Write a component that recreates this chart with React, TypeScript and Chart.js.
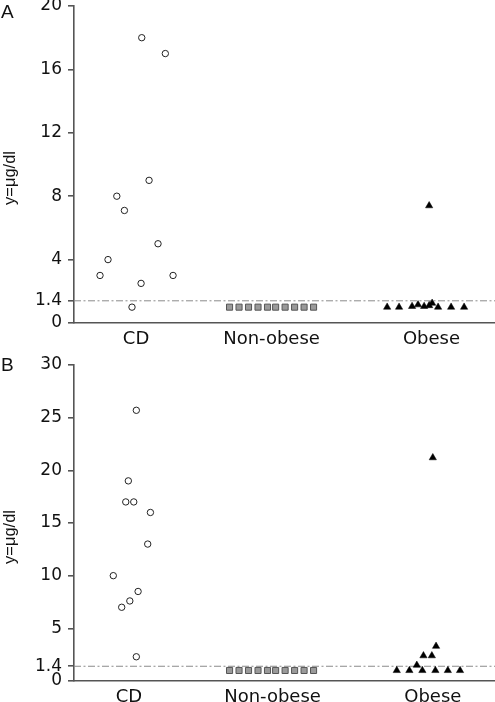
import React, { useEffect, useRef } from 'react';
import { Chart, registerables } from 'chart.js';

Chart.register(...registerables);

// ---------- shared ----------
const categories = ['CD', 'Non-obese', 'Obese'];
const categoryCenters = [1, 2, 3.17];
const xMin = 0.542;
const xMax = 3.649;
const cutoff = 1.4;
const yTitle = 'y=μg/dl';

// ---------- panel A ----------
const aYTicks = [0, 1.4, 4, 8, 12, 16, 20];
const aYMax = 20;
const aLabelPos = [1, 2, 3.18];
const aCdValues = [3.0, 4.0, 8.0, 7.1, 1.0, 18.0, 2.5, 9.0, 5.0, 17.0, 3.0];
const aCdJitter = [-0.266, -0.207, -0.142, -0.086, -0.03, 0.042, 0.037, 0.096, 0.162, 0.216, 0.273];
const aNonObeseValues = [1.0, 1.0, 1.0, 1.0, 1.0, 1.0, 1.0, 1.0, 1.0, 1.0];
const aNonObeseJitter = [-0.31, -0.24, -0.17, -0.1, -0.03, 0.03, 0.1, 0.17, 0.24, 0.31];
const aObeseValues = [1.0, 1.0, 1.05, 1.15, 1.05, 7.4, 1.1, 1.25, 1.0, 1.0, 1.0];
const aObeseJitter = [-0.317, -0.229, -0.133, -0.089, -0.044, -0.007, -0.007, 0.015, 0.059, 0.155, 0.251];

// ---------- panel B ----------
const bYTicks = [0, 1.4, 5, 10, 15, 20, 25, 30];
const bYMax = 30;
const bLabelPos = [0.948, 2.007, 3.19];
const bCdValues = [25.7, 19.0, 17.0, 17.0, 16.0, 13.0, 10.0, 8.5, 7.6, 7.0, 2.3];
const bCdJitter = [0.002, -0.057, -0.076, -0.017, 0.106, 0.086, -0.168, 0.015, -0.046, -0.106, 0.002];
const bNonObeseValues = [1.0, 1.0, 1.0, 1.0, 1.0, 1.0, 1.0, 1.0, 1.0, 1.0];
const bNonObeseJitter = [-0.31, -0.24, -0.17, -0.1, -0.03, 0.03, 0.1, 0.17, 0.24, 0.31];
const bObeseValues = [1.0, 1.0, 1.0, 1.0, 1.0, 1.0, 1.5, 2.4, 2.4, 3.3, 21.2];
const bObeseJitter = [-0.246, -0.153, -0.057, 0.039, 0.131, 0.221, -0.098, -0.049, 0.013, 0.044, 0.02];

const W = 495;
const H = 351;
const AXIS = '#555555';
const TICK_FONT = { family: '"DejaVu Sans", sans-serif', size: 17 };
const LABEL_FONT = { family: '"DejaVu Sans", sans-serif', size: 18 };

type PanelCfg = {
  letter: string;
  letterTop: number;
  titleY: number;
  padTop: number;
  xHeight: number;
  yTicks: number[];
  yMax: number;
  labelPos: number[];
  cd: number[];
  cdJ: number[];
  non: number[];
  nonJ: number[];
  ob: number[];
  obJ: number[];
};

const panels: PanelCfg[] = [
  {
    letter: 'A', letterTop: 3, titleY: 178, padTop: 6, xHeight: 28,
    yTicks: aYTicks, yMax: aYMax, labelPos: aLabelPos,
    cd: aCdValues, cdJ: aCdJitter, non: aNonObeseValues, nonJ: aNonObeseJitter,
    ob: aObeseValues, obJ: aObeseJitter,
  },
  {
    letter: 'B', letterTop: 5, titleY: 186, padTop: 14, xHeight: 21,
    yTicks: bYTicks, yMax: bYMax, labelPos: bLabelPos,
    cd: bCdValues, cdJ: bCdJitter, non: bNonObeseValues, nonJ: bNonObeseJitter,
    ob: bObeseValues, obJ: bObeseJitter,
  },
];

const pts = (center: number, jit: number[], vals: number[]) =>
  vals.map((v, i) => ({ x: center + jit[i], y: v }));

function buildConfig(p: PanelCfg): any {
  const annot = {
    id: 'annot',
    afterDraw(chart: any) {
      const ctx = chart.ctx;
      ctx.save();
      ctx.fillStyle = '#111';
      ctx.font = '19px "Liberation Sans", Arial, sans-serif';
      ctx.textAlign = 'left';
      ctx.textBaseline = 'top';
      ctx.fillText(p.letter, 1, p.letterTop);
      ctx.translate(10.5, p.titleY);
      ctx.rotate(-Math.PI / 2);
      ctx.textAlign = 'center';
      ctx.textBaseline = 'middle';
      ctx.font = '16.5px "Liberation Sans", Arial, sans-serif';
      ctx.fillText(yTitle, 0, 0);
      ctx.restore();
    },
  };

  return {
    type: 'scatter',
    data: {
      datasets: [
        {
          type: 'line',
          data: [{ x: xMin, y: cutoff }, { x: xMax, y: cutoff }],
          borderColor: '#8a8a8a',
          borderWidth: 1,
          borderDash: [7, 2.5, 2, 2.5],
          pointRadius: 0,
          fill: false,
          order: 5,
        },
        {
          data: pts(categoryCenters[0], p.cdJ, p.cd),
          pointStyle: 'circle',
          pointRadius: 3.2,
          borderWidth: 1,
          borderColor: '#222',
          backgroundColor: '#fff',
          order: 1,
        },
        {
          data: pts(categoryCenters[1], p.nonJ, p.non),
          pointStyle: 'rect',
          pointRadius: 4.3,
          borderWidth: 1,
          borderColor: '#555',
          backgroundColor: '#9a9a9a',
          order: 1,
        },
        {
          data: pts(categoryCenters[2], p.obJ, p.ob),
          pointStyle: 'triangle',
          pointRadius: 4.2,
          borderWidth: 0.5,
          borderColor: '#000',
          backgroundColor: '#000',
          order: 1,
        },
      ],
    },
    options: {
      responsive: false,
      animation: false,
      devicePixelRatio: 1,
      layout: { autoPadding: false, padding: { top: p.padTop, left: 0, right: 0, bottom: 0 } },
      plugins: { legend: { display: false }, tooltip: { enabled: false } },
      scales: {
        x: {
          type: 'linear',
          min: xMin,
          max: xMax,
          bounds: 'data',
          grid: { display: false, drawTicks: false },
          border: { display: true, color: AXIS, width: 1.6 },
          ticks: {
            autoSkip: false,
            maxRotation: 0,
            padding: 6,
            color: '#111',
            font: LABEL_FONT,
            callback: (_v: any, i: number) => categories[i],
          },
          afterBuildTicks: (s: any) => {
            s.ticks = p.labelPos.map((v) => ({ value: v }));
          },
          afterFit: (s: any) => {
            s.height = p.xHeight;
            s.paddingLeft = 0;
            s.paddingRight = 0;
          },
        },
        y: {
          type: 'linear',
          min: 0,
          max: p.yMax,
          bounds: 'data',
          grid: {
            display: true,
            drawOnChartArea: false,
            drawTicks: true,
            tickLength: 6,
            color: AXIS,
            lineWidth: 1.6,
          },
          border: { display: true, color: AXIS, width: 1.6 },
          ticks: {
            autoSkip: false,
            padding: 6,
            color: '#111',
            font: TICK_FONT,
            callback: (v: any) => String(v),
          },
          afterBuildTicks: (s: any) => {
            s.ticks = p.yTicks.map((v) => ({ value: v }));
          },
          afterFit: (s: any) => {
            s.width = 74;
            s.paddingTop = 0;
            s.paddingBottom = 0;
          },
        },
      },
    },
    plugins: [annot],
  };
}

function Panel({ cfg }: { cfg: PanelCfg }) {
  const ref = useRef<HTMLCanvasElement>(null);
  useEffect(() => {
    const chart = new Chart(ref.current as HTMLCanvasElement, buildConfig(cfg));
    return () => chart.destroy();
  }, [cfg]);
  return (
    <canvas
      ref={ref}
      width={W}
      height={H}
      style={{ display: 'block', width: W, height: H }}
    />
  );
}

export default function App() {
  useEffect(() => {
    document.body.style.margin = '0';
    document.body.style.background = '#fff';
  }, []);
  return (
    <div style={{ width: W, height: H * 2, background: '#fff' }}>
      {panels.map((p) => (
        <Panel key={p.letter} cfg={p} />
      ))}
    </div>
  );
}
